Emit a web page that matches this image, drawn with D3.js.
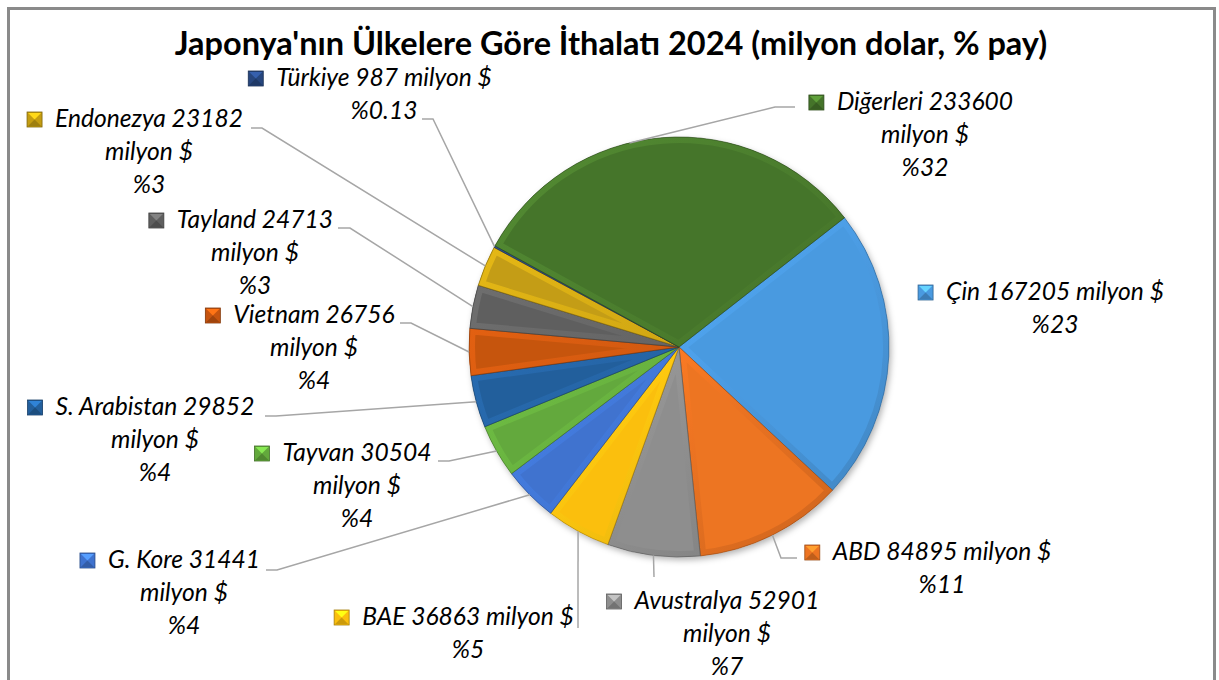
<!DOCTYPE html>
<html>
<head>
<meta charset="utf-8">
<script src="https://cdn.jsdelivr.net/npm/d3@7"></script>
<style>
    body { margin: 0; background: #fff; }
    svg { display: block; font-family: Lato, "Open Sans", sans-serif; }
</style>
</head>
<body>
<svg id="chart" width="1219" height="680"></svg>
<script>
var title = "Japonya'nın Ülkelere Göre İthalatı 2024 (milyon dolar, % pay)";
var countries = ["Çin", "ABD", "Avustralya", "BAE", "G. Kore", "Tayvan", "S. Arabistan", "Vietnam", "Tayland", "Endonezya", "Türkiye", "Diğerleri"];
var values = [167205, 84895, 52901, 36863, 31441, 30504, 29852, 26756, 24713, 23182, 987, 233600];
var shares = ["23", "11", "7", "5", "4", "4", "4", "4", "3", "3", "0.13", "32"];
var colors = ["#4a9ae0", "#ed7422", "#8e8e8e", "#fbbf0e", "#3f73cf", "#63a93c", "#235f9c", "#c6540f", "#5f5f5f", "#c49d12", "#27467e", "#45742a"];

// label placement (hand laid out, like in the original sheet)
// cx: centre of text lines, y: first baseline, wrap: value on own line,
// anchor/elbow: leader line start, attach: where on the slice arc the leader ends
var labelLayout = [
    { cx: 1055, y: 300, wrap: false, anchor: null },
    { cx: 942, y: 560, wrap: false, anchor: [797, 558], elbow: -16 },
    { cx: 727, y: 609, wrap: true, anchor: [654, 577], elbow: 0 },
    { cx: 468, y: 625, wrap: false, anchor: [578, 628], elbow: 0 },
    { cx: 184, y: 568, wrap: true, anchor: [266, 570], elbow: 11 },
    { cx: 357, y: 461, wrap: true, anchor: [438, 461], elbow: 11 },
    { cx: 155, y: 415, wrap: true, anchor: [265, 416], elbow: 11 },
    { cx: 314, y: 323, wrap: true, anchor: [400, 323], elbow: 11 },
    { cx: 255, y: 228, wrap: true, anchor: [338, 228], elbow: 12 },
    { cx: 149, y: 127, wrap: true, anchor: [251, 128], elbow: 11 },
    { cx: 384, y: 86, wrap: false, anchor: [422, 119], elbow: 11 },
    { cx: 925, y: 110, wrap: true, anchor: [795, 107], elbow: -20, attach: 0.42 }
];

var svg = d3.select("#chart");
var cx = 679, cy = 347, radius = 210;
var startAngle = 52 * Math.PI / 180;
var lineH = 33;

//fit font sizes to the widths seen in the original
function measure(txt, weight, style) {
    var t = svg.append("text")
        .attr("font-size", 100)
        .attr("font-weight", weight)
        .attr("font-style", style)
        .text(txt);
    var w = t.node().getComputedTextLength();
    t.remove();
    return w;
}
var labelSize = 100 * 188 / measure("Endonezya 23182", "normal", "italic");
var titleSize = 100 * 873 / measure(title, "bold", "normal");

// outer frame
svg.append("rect")
    .attr("x", 8.5).attr("y", 8.5)
    .attr("width", 1206).attr("height", 690)
    .attr("fill", "#fff")
    .attr("stroke", "#8a8a8a")
    .attr("stroke-width", 3);

svg.append("text")
    .attr("x", 611).attr("y", 55)
    .attr("text-anchor", "middle")
    .attr("font-size", titleSize)
    .attr("font-weight", "bold")
    .attr("fill", "#000")
    .text(title);

var defs = svg.append("defs");
var shadow = defs.append("filter").attr("id", "shadow")
    .attr("x", "-10%").attr("y", "-10%").attr("width", "120%").attr("height", "120%");
shadow.append("feDropShadow")
    .attr("dx", 2).attr("dy", 3).attr("stdDeviation", 3)
    .attr("flood-color", "#000").attr("flood-opacity", 0.3);

var pie = d3.pie().sort(null).value(function (d) { return d; })
    .startAngle(startAngle).endAngle(startAngle + 2 * Math.PI);
var arcs = pie(values);
var arc = d3.arc().innerRadius(0).outerRadius(radius);

//gradient for bevel band of each slice (light top-left, dark bottom-right)
colors.forEach(function (c, i) {
    var g = defs.append("linearGradient")
        .attr("id", "bevel" + i)
        .attr("gradientUnits", "userSpaceOnUse")
        .attr("x1", -radius).attr("y1", -radius)
        .attr("x2", radius).attr("y2", radius);
    g.append("stop").attr("offset", 0).attr("stop-color", d3.color(c).brighter(0.55));
    g.append("stop").attr("offset", 0.5).attr("stop-color", d3.color(c).brighter(0.15));
    g.append("stop").attr("offset", 1).attr("stop-color", d3.color(c).darker(0.5));
    defs.append("clipPath").attr("id", "clip" + i)
        .append("path").attr("d", arc(arcs[i]));
});

var pieG = svg.append("g").attr("transform", "translate(" + cx + "," + cy + ")");
var under = pieG.append("g").attr("filter", "url(#shadow)");
under.selectAll("path")
    .data(arcs)
    .enter()
    .append("path")
    .attr("d", arc)
    .attr("fill", function (d, i) { return colors[i]; });

var slices = pieG.selectAll(".slice")
    .data(arcs)
    .enter()
    .append("g")
    .classed("slice", true);

slices.append("path")
    .attr("d", arc)
    .attr("fill", "none")
    .attr("clip-path", function (d, i) { return "url(#clip" + i + ")"; })
    .attr("stroke", function (d, i) { return "url(#bevel" + i + ")"; })
    .attr("stroke-width", 12)
    .attr("stroke-linejoin", "round");

slices.append("path")
    .attr("d", arc)
    .attr("fill", "none")
    .attr("stroke", function (d, i) { return d3.color(colors[i]).darker(1.3); })
    .attr("stroke-opacity", 0.6)
    .attr("stroke-width", 1);

// leader lines
function edgePoint(d, f) {
    var a = d.startAngle + (d.endAngle - d.startAngle) * f;
    return [cx + radius * Math.sin(a), cy - radius * Math.cos(a)];
}
labelLayout.forEach(function (lay, i) {
    if (!lay.anchor) return;
    var p = edgePoint(arcs[i], lay.attach === undefined ? 0.5 : lay.attach);
    var path = d3.path();
    path.moveTo(lay.anchor[0], lay.anchor[1]);
    path.lineTo(lay.anchor[0] + lay.elbow, lay.anchor[1]);
    path.lineTo(p[0], p[1]);
    svg.append("path")
        .attr("d", path.toString())
        .attr("fill", "none")
        .attr("stroke", "#a6a6a6")
        .attr("stroke-width", 1.5);
});

// labels
labelLayout.forEach(function (lay, i) {
    var lines;
    if (lay.wrap) {
        lines = [countries[i] + " " + values[i], "milyon $", "%" + shares[i]];
    } else {
        lines = [countries[i] + " " + values[i] + " milyon $", "%" + shares[i]];
    }
    var g = svg.append("g").attr("class", "label");
    var first;
    lines.forEach(function (ln, k) {
        var t = g.append("text")
            .attr("x", lay.cx)
            .attr("y", lay.y + k * lineH)
            .attr("text-anchor", "middle")
            .attr("font-size", labelSize)
            .attr("font-style", "italic")
            .attr("fill", "#000")
            .text(ln);
        if (k === 0) first = t;
    });
    // legend key in front of first line
    var w = first.node().getComputedTextLength();
    var kx = lay.cx - w / 2 - 13 - 15;
    var ky = lay.y - 15;
    var c = d3.color(colors[i]);
    g.append("rect")
        .attr("x", kx).attr("y", ky)
        .attr("width", 15).attr("height", 15)
        .attr("fill", colors[i])
        .attr("stroke", c.darker(1.2))
        .attr("stroke-width", 0.8);
    g.append("path")
        .attr("d", "M" + (kx + 1) + "," + (ky + 1) + "L" + (kx + 14) + "," + (ky + 1) + "L" + (kx + 7.5) + "," + (ky + 7.5) + "Z")
        .attr("fill", c.brighter(0.9));
    g.append("path")
        .attr("d", "M" + (kx + 1) + "," + (ky + 14) + "L" + (kx + 14) + "," + (ky + 14) + "L" + (kx + 7.5) + "," + (ky + 7.5) + "Z")
        .attr("fill", c.darker(0.6));
});
</script>
</body>
</html>
